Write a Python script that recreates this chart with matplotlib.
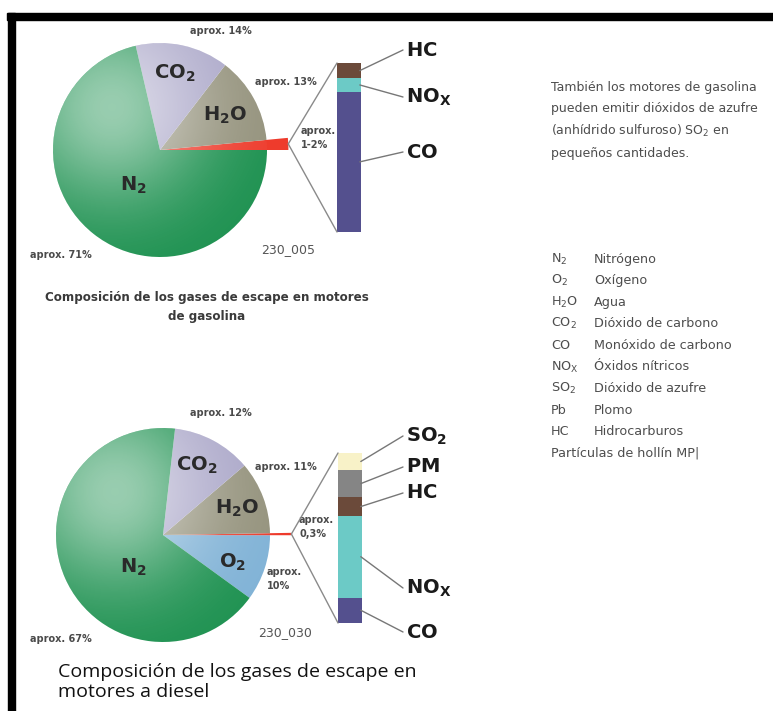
import numpy as np
import matplotlib.pyplot as plt
from matplotlib.patches import Circle, Rectangle, ConnectionPatch

W, H = 773, 711

# gasolina: pie (porcentaje) y barra de los gases nocivos (1-2 %)
top_vals = [1.5, 13, 14, 71]               # nocivos, H2O, CO2, N2
top_cols = ['#ee3b2c', '#94927c', '#aaa6c8', '#1d9150']
top_bar_names = [r'$\mathbf{CO}$', r'$\mathbf{NO_X}$', r'$\mathbf{HC}$']
top_bar_vals = [83, 8, 9]
top_bar_cols = ['#54508e', '#6ccac6', '#6b4a3a']

# diesel
bot_vals = [10, 0.3, 11, 12, 67]           # O2, nocivos, H2O, CO2, N2
bot_cols = ['#80b2d6', '#ee3b2c', '#94927c', '#aaa6c8', '#1d9150']
bot_bar_names = [r'$\mathbf{CO}$', r'$\mathbf{NO_X}$', r'$\mathbf{HC}$', r'$\mathbf{PM}$', r'$\mathbf{SO_2}$']
bot_bar_vals = [15, 48, 11, 16, 10]
bot_bar_cols = ['#54508e', '#6ccac6', '#6b4a3a', '#858585', '#f8f2c8']

legend_formulas = ['N$_2$', 'O$_2$', 'H$_2$O', 'CO$_2$', 'CO', r'NO$_\mathrm{X}$', 'SO$_2$', 'Pb', 'HC']
legend_names = ['Nitrógeno', 'Oxígeno', 'Agua', 'Dióxido de carbono', 'Monóxido de carbono',
                'Óxidos nítricos', 'Dióxido de azufre', 'Plomo', 'Hidrocarburos']

fig = plt.figure(figsize=(W / 100, H / 100), dpi=100)


def px_axes(x0, y0, x1, y1):
    return fig.add_axes([x0 / W, 1 - y1 / H, (x1 - x0) / W, (y1 - y0) / H])


def draw_pie(cx, cy, r, vals, cols, start, red):
    s = 1.25 * r
    ax = px_axes(cx - s, cy - s, cx + s, cy + s)
    wedges, _ = ax.pie(vals, colors=cols, startangle=start, wedgeprops=dict(linewidth=0))
    wedges[red].set_radius(1.2)
    # brillo tipo esfera
    g = np.linspace(-1, 1, 300)
    xx, yy = np.meshgrid(g, g)
    d = np.hypot(xx + 0.45, yy - 0.4)
    img = np.ones((300, 300, 4))
    img[..., 3] = 0.55 * np.exp(-(d / 0.9) ** 2)
    im = ax.imshow(img, extent=(-1, 1, -1, 1), origin='lower', zorder=3)
    im.set_clip_path(Circle((0, 0), 1, transform=ax.transData))
    ax.set_xlim(-1.25, 1.25)
    ax.set_ylim(-1.25, 1.25)
    ax.axis('off')
    w = wedges[red]
    t = np.deg2rad((w.theta1 + w.theta2) / 2)
    return ax, (1.2 * np.cos(t), 1.2 * np.sin(t))


def draw_bar(x0, y0, x1, y1, vals, cols):
    ax = px_axes(x0, y0, x1, y1)
    bottoms = np.concatenate([[0], np.cumsum(vals)[:-1]])
    ax.bar([0] * len(vals), vals, bottom=bottoms, width=1, color=cols)
    ax.set_xlim(-0.5, 0.5)
    ax.set_ylim(0, sum(vals))
    ax.axis('off')
    return ax, bottoms + np.array(vals) / 2


pie1, tip1 = draw_pie(160, 150, 107, top_vals, top_cols, 0, 0)
pie2, tip2 = draw_pie(163, 535, 107, bot_vals, bot_cols, -36, 1)
bar1, mid1 = draw_bar(337, 63, 361, 232, top_bar_vals, top_bar_cols)
bar2, mid2 = draw_bar(338, 453, 362, 623, bot_bar_vals, bot_bar_cols)

ov = fig.add_axes([0, 0, 1, 1])
ov.set_xlim(0, W)
ov.set_ylim(H, 0)
ov.axis('off')

# marco negro
ov.add_patch(Rectangle((7, 13), W - 7, 7, color='black'))
ov.add_patch(Rectangle((8, 13), 7, H - 13, color='black'))

# lineas de la porcion roja a la barra
for pie, tip, bar, vals in [(pie1, tip1, bar1, top_bar_vals), (pie2, tip2, bar2, bot_bar_vals)]:
    for yb in [0, sum(vals)]:
        fig.add_artist(ConnectionPatch(tip, (-0.5, yb), pie.transData, bar.transData,
                                       color='#8a8a8a', lw=1))

# etiquetas de la barra
top_lab_y = [152, 97, 50]
bot_lab_y = [632, 588, 493, 467, 436]
for bar, mids, names, ys in [(bar1, mid1, top_bar_names, top_lab_y),
                             (bar2, mid2, bot_bar_names, bot_lab_y)]:
    for m, n, y in zip(mids, names, ys):
        fig.add_artist(ConnectionPatch((0.45, m), (403, y), bar.transData, ov.transData,
                                       color='#777777', lw=1))
        ov.text(406, y, n, ha='left', va='center', fontsize=14, fontweight='bold', color='#1a1a1a')

big = dict(fontsize=14, fontweight='bold', color='#2a2a2a', ha='center', va='center')
ov.text(175, 73, r'$\mathbf{CO_2}$', **big)
ov.text(225, 115, r'$\mathbf{H_2O}$', **big)
ov.text(133, 185, r'$\mathbf{N_2}$', **big)
ov.text(197, 465, r'$\mathbf{CO_2}$', **big)
ov.text(237, 508, r'$\mathbf{H_2O}$', **big)
ov.text(233, 562, r'$\mathbf{O_2}$', **big)
ov.text(133, 567, r'$\mathbf{N_2}$', **big)

small = dict(fontsize=7, fontweight='bold', color='#4a4a4a', va='center')
ov.text(221, 31, 'aprox. 14%', ha='center', **small)
ov.text(286, 82, 'aprox. 13%', ha='center', **small)
ov.text(301, 138, 'aprox.\n1-2%', ha='left', linespacing=1.6, **small)
ov.text(61, 255, 'aprox. 71%', ha='center', **small)
ov.text(221, 413, 'aprox. 12%', ha='center', **small)
ov.text(286, 467, 'aprox. 11%', ha='center', **small)
ov.text(299, 527, 'aprox.\n0,3%', ha='left', linespacing=1.6, **small)
ov.text(267, 579, 'aprox.\n10%', ha='left', linespacing=1.6, **small)
ov.text(61, 639, 'aprox. 67%', ha='center', **small)

ov.text(288, 250, '230_005', ha='center', va='center', fontsize=9, color='#555555')
ov.text(285, 633, '230_030', ha='center', va='center', fontsize=9, color='#555555')

ov.text(207, 307, 'Composición de los gases de escape en motores\nde gasolina', ha='center',
        va='center', fontsize=8.6, fontweight='bold', color='#3a3a3a', linespacing=1.6)
ov.text(58, 682, 'Composición de los gases de escape en\nmotores a diesel', ha='left',
        va='center', fontsize=14, family='Open Sans', color='#111111', linespacing=1.1)

ov.text(551, 120.5, 'También los motores de gasolina\npueden emitir dióxidos de azufre\n'
        '(anhídrido sulfuroso) SO$_2$ en\npequeños cantidades.', ha='left', va='center',
        fontsize=9, color='#4d4d4d', linespacing=1.72)

for i, (f, n) in enumerate(zip(legend_formulas, legend_names)):
    y = 259 + i * 21.6
    ov.text(551, y, f, ha='left', va='center', fontsize=9.2, color='#4d4d4d')
    ov.text(594, y, n, ha='left', va='center', fontsize=9.2, color='#4d4d4d')
ov.text(551, 453, 'Partículas de hollín MP|', ha='left', va='center', fontsize=9.2, color='#4d4d4d')

fig.savefig('out.png', dpi=100)
